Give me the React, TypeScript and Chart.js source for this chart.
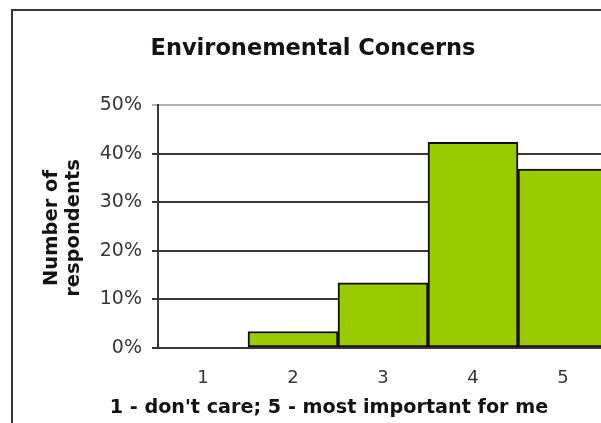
import React, { useEffect, useRef } from "react";
import { Chart, registerables } from "chart.js";

Chart.register(...registerables);

const categories = ["1", "2", "3", "4", "5"];
const respondentShare = [0, 3.4, 13.4, 42.3, 36.8];
const yTickStep = 10;
const yMax = 50;
const chartTitle = "Environemental Concerns";
const xAxisTitle = "1 - don't care; 5 - most important for me";
const yAxisTitleLines = ["Number of", "respondents"];

const FONT = "'DejaVu Sans', Verdana, sans-serif";
const GRID_DARK = "#3d3636";
const GRID_LIGHT = "#b4b0b0";

const titlePlugin = {
  id: "excelTitles",
  afterDraw(chart: any) {
    const ctx = chart.ctx;
    ctx.save();
    ctx.fillStyle = "#151212";
    ctx.textAlign = "center";
    ctx.textBaseline = "alphabetic";
    ctx.font = `bold 22.5px ${FONT}`;
    ctx.fillText(chartTitle, 313, 55);
    ctx.font = `bold 19.2px ${FONT}`;
    ctx.fillText(xAxisTitle, 329, 413);
    ctx.font = `bold 19.5px ${FONT}`;
    const baselines = [57, 79];
    yAxisTitleLines.forEach((line, i) => {
      ctx.save();
      ctx.translate(baselines[i], 228);
      ctx.rotate(-Math.PI / 2);
      ctx.fillText(line, 0, 0);
      ctx.restore();
    });
    ctx.restore();
  },
};

export default function App() {
  const canvasRef = useRef<HTMLCanvasElement | null>(null);

  useEffect(() => {
    if (!canvasRef.current) return;
    const chart = new Chart(canvasRef.current, {
      type: "bar",
      data: {
        labels: categories,
        datasets: [
          {
            data: respondentShare,
            backgroundColor: "#99cc00",
            borderColor: "#140e0a",
            borderWidth: 2,
            borderSkipped: false,
            barPercentage: 1,
            categoryPercentage: 1,
          },
        ],
      },
      options: {
        animation: false,
        responsive: false,
        events: [],
        layout: { padding: { top: 105, right: 32, left: 0, bottom: 0 } },
        plugins: {
          legend: { display: false },
          title: { display: false },
          tooltip: { enabled: false },
        },
        scales: {
          x: {
            afterFit(scale: any) {
              scale.height = 75;
            },
            grid: { display: false },
            border: { display: true, color: GRID_DARK, width: 2 },
            ticks: {
              color: "#3a3535",
              font: { family: FONT, size: 18 },
              padding: 12,
            },
          },
          y: {
            min: 0,
            max: yMax,
            afterFit(scale: any) {
              scale.width = 158;
            },
            border: { display: true, color: GRID_DARK, width: 2 },
            grid: {
              color: (c: any) => (c.tick && c.tick.value === yMax ? GRID_LIGHT : GRID_DARK),
              lineWidth: 2,
              tickLength: 6,
              drawTicks: true,
            },
            ticks: {
              stepSize: yTickStep,
              color: "#3a3535",
              font: { family: FONT, size: 19 },
              padding: 10,
              callback: (v: any) => `${v}%`,
            },
          },
        },
      },
      plugins: [titlePlugin],
    });
    return () => chart.destroy();
  }, []);

  return (
    <div
      style={{
        position: "fixed",
        left: 0,
        top: 0,
        width: 601,
        height: 423,
        overflow: "hidden",
        background: "#ffffff",
      }}
    >
      <div
        style={{
          position: "absolute",
          left: 11,
          top: 9,
          width: 700,
          height: 500,
          borderLeft: "2px solid #3b3434",
          borderTop: "2px solid #3b3434",
        }}
      />
      <canvas
        ref={canvasRef}
        width={640}
        height={423}
        style={{ position: "absolute", left: 0, top: 0, width: 640, height: 423 }}
      />
    </div>
  );
}
